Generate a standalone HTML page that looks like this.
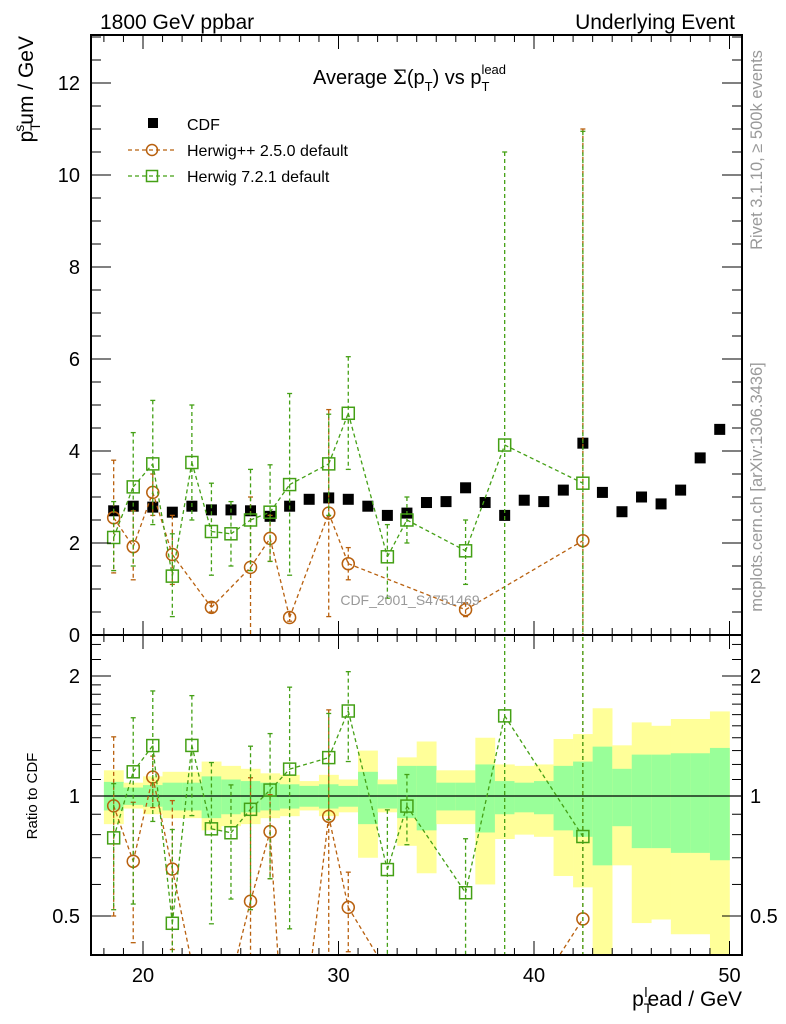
<!DOCTYPE html>
<html><head><meta charset="utf-8"><style>
html,body{margin:0;padding:0;background:#fff;width:786px;height:1024px;overflow:hidden}
svg{display:block;font-family:"Liberation Sans","DejaVu Sans",sans-serif}
</style></head><body>
<svg id="chart" width="786" height="1024" viewBox="0 0 786 1024" xmlns="http://www.w3.org/2000/svg">
<defs>
<clipPath id="clipMain"><rect x="91" y="35" width="651" height="600"/></clipPath>
<clipPath id="clipRatio"><rect x="91" y="635" width="651" height="320"/></clipPath>
</defs>
<g id="bands" clip-path="url(#clipRatio)"></g>
<g id="main" clip-path="url(#clipMain)"></g>
<g id="ratio" clip-path="url(#clipRatio)"></g>
<g id="axes"></g>
<text x="100" y="29" font-size="21">1800 GeV ppbar</text>
<text x="735" y="29" font-size="21" text-anchor="end">Underlying Event</text>
<text x="313" y="84" font-size="20">Average <tspan font-family="DejaVu Serif, serif">Σ</tspan>(p<tspan font-size="13" dy="7">T</tspan><tspan dy="-7">) vs p</tspan><tspan font-size="13" dy="7">T</tspan><tspan font-size="13" dx="-8" dy="-17">lead</tspan></text>
<g>
<rect x="148" y="118" width="10" height="10" fill="#000"/>
<text x="187" y="130" font-size="16">CDF</text>
<line x1="128" y1="150" x2="176" y2="150" stroke="#b8600e" stroke-width="1.2" stroke-dasharray="4,3"/>
<circle cx="152" cy="150" r="5.5" fill="none" stroke="#b8600e" stroke-width="1.5"/>
<text x="187" y="156" font-size="16">Herwig++ 2.5.0 default</text>
<line x1="128" y1="176" x2="176" y2="176" stroke="#44a015" stroke-width="1.2" stroke-dasharray="4,3"/>
<rect x="146.5" y="170.5" width="11" height="11" fill="none" stroke="#44a015" stroke-width="1.5"/>
<text x="187" y="182" font-size="16">Herwig 7.2.1 default</text>
</g>
<text x="410" y="605" font-size="14" fill="#999" text-anchor="middle">CDF_2001_S4751469</text>
<text transform="translate(762,150) rotate(-90)" font-size="16.5" fill="#999" text-anchor="middle">Rivet 3.1.10, ≥ 500k events</text>
<text transform="translate(762,487) rotate(-90)" font-size="16.5" fill="#999" text-anchor="middle">mcplots.cern.ch [arXiv:1306.3436]</text>
<text transform="translate(33,36) rotate(-90)" font-size="21" text-anchor="end">p<tspan font-size="14" dy="7">T</tspan><tspan font-size="14" dx="-8" dy="-16">s</tspan><tspan dy="9">um / GeV</tspan></text>
<text transform="translate(37,796) rotate(-90)" font-size="15" text-anchor="middle">Ratio to CDF</text>
<text x="742" y="1006" font-size="21" text-anchor="end">p<tspan font-size="14" dy="7">T</tspan><tspan font-size="14" dx="-8" dy="-16">l</tspan><tspan dy="9">ead / GeV</tspan></text>
</svg>
<script>
const binLo=[18,19,20,21,22,23,24,25,26,27,28,29,30,31,32,33,34,35,36,37,38,39,40,41,42,43,44,45,46,47,48,49];
const cdfVals=[2.7,2.8,2.78,2.67,2.8,2.72,2.72,2.7,2.58,2.8,2.95,2.98,2.95,2.8,2.6,2.65,2.88,2.9,3.2,2.88,2.6,2.93,2.9,3.15,4.17,3.1,2.68,3.0,2.85,3.15,3.85,4.47];
const yelHi=[1.16,1.08,1.12,1.15,1.15,1.22,1.19,1.17,1.14,1.13,1.09,1.13,1.10,1.30,1.10,1.25,1.37,1.16,1.16,1.40,1.20,1.19,1.20,1.39,1.43,1.66,1.34,1.53,1.50,1.56,1.56,1.63];
const yelLo=[0.85,0.93,0.90,0.88,0.88,0.82,0.84,0.85,0.88,0.89,0.92,0.89,0.91,0.70,0.91,0.75,0.64,0.85,0.85,0.60,0.78,0.80,0.79,0.63,0.59,0.35,0.67,0.48,0.49,0.45,0.45,0.35];
const grnHi=[1.085,1.05,1.065,1.08,1.08,1.12,1.10,1.09,1.08,1.07,1.06,1.07,1.06,1.15,1.07,1.19,1.19,1.08,1.08,1.20,1.09,1.08,1.09,1.19,1.22,1.33,1.17,1.27,1.27,1.28,1.28,1.32];
const grnLo=[0.92,0.95,0.94,0.92,0.92,0.88,0.90,0.91,0.92,0.93,0.94,0.93,0.94,0.85,0.93,0.88,0.82,0.92,0.92,0.81,0.90,0.91,0.90,0.82,0.79,0.67,0.84,0.74,0.74,0.72,0.72,0.69];
const hppX=[18.5,19.5,20.5,21.5,23.5,25.5,26.5,27.5,29.5,30.5,36.5,42.5];
const hppVals=[2.55,1.92,3.1,1.75,0.6,1.47,2.1,0.38,2.65,1.55,0.55,2.05];
const hppLo=[1.35,1.2,2.6,1.1,0.5,-0.5,1.6,0.3,0.4,1.2,0.4,-0.5];
const hppHi=[3.8,2.7,3.5,2.6,0.7,3.0,2.6,0.5,4.9,1.9,0.7,11.0];
const h7X=[18.5,19.5,20.5,21.5,22.5,23.5,24.5,25.5,26.5,27.5,29.5,30.5,32.5,33.5,36.5,38.5,42.5];
const h7Vals=[2.12,3.22,3.72,1.28,3.75,2.25,2.2,2.5,2.67,3.27,3.72,4.82,1.7,2.5,1.83,4.13,3.3];
const h7Lo=[1.4,1.5,2.4,0.4,2.5,1.3,1.5,1.4,1.6,1.3,2.6,3.6,0.8,2.0,1.1,-0.5,-0.5];
const h7Hi=[2.9,4.4,5.1,2.2,5.0,3.3,2.9,3.6,3.7,5.25,4.8,6.05,2.4,3.0,2.5,10.5,10.95];
const yTicksMain=[0,2,4,6,8,10,12];
const xTicks=[20,30,40,50];
const rTicks=[0.5,1,2];

const NS="http://www.w3.org/2000/svg";
const X=v=>143+(v-20)*19.55;
const Y=v=>635-46*v;
const R=r=>796-Math.log2(r)*120;
const clampY=(y,a,b)=>Math.min(Math.max(y,a),b);
function el(tag,attrs,parent){const e=document.createElementNS(NS,tag);for(const k in attrs)e.setAttribute(k,attrs[k]);parent.appendChild(e);return e;}
const gB=document.getElementById('bands'),gM=document.getElementById('main'),gR=document.getElementById('ratio'),gA=document.getElementById('axes');

binLo.forEach((b,i)=>{
  const yt=clampY(R(yelHi[i]),635,955),yb=clampY(R(yelLo[i]),635,955);
  const y=el('rect',{x:X(b),y:yt,width:X(b+1)-X(b)+0.3,height:yb-yt,fill:'#ffff99'},gB);
  
  
  const gt=clampY(R(grnHi[i]),635,955),gb=clampY(R(grnLo[i]),635,955);
  const g=el('rect',{x:X(b),y:gt,width:X(b+1)-X(b)+0.3,height:gb-gt,fill:'#99ff99'},gB);
  
  
});
const one=el('line',{x1:91,x2:742,y1:R(1),y2:R(1),stroke:'#000','stroke-width':1.2},gB);



binLo.forEach((b,i)=>{
  const m=el('rect',{x:X(b+0.5)-5.5,y:Y(cdfVals[i])-5.5,width:11,height:11,fill:'#000'},gM);
  
  
});

function clipSegs(pts,ymin,ymax){
  let d='';
  for(let i=0;i+1<pts.length;i++){
    const x1=pts[i][0],y1=pts[i][1],x2=pts[i+1][0],y2=pts[i+1][1];
    if((y1 < ymin && y2 < ymin)||(y1 > ymax && y2 > ymax))continue;
    const at=y=>x1+(x2-x1)*(y-y1)/(y2-y1);
    let ax=x1,ay=y1,bx=x2,by=y2;
    if(ay > ymax){ax=at(ymax);ay=ymax;} if(ay < ymin){ax=at(ymin);ay=ymin;}
    if(by > ymax){bx=at(ymax);by=ymax;} if(by < ymin){bx=at(ymin);by=ymin;}
    d+='M'+ax.toFixed(2)+','+ay.toFixed(2)+'L'+bx.toFixed(2)+','+by.toFixed(2);
  }
  return d;
}
function cdfAt(x){return cdfVals[binLo.indexOf(Math.floor(x))];}
function series(xs,vals,lo,hi,color,shape,name){
  [gM,gR].forEach((g,pi)=>{
    const raw=(x,v)=>pi===0?Y(v):R(Math.max(v/cdfAt(x),0.01));
    const lim=pi===0?[30,640]:[630,960];
    const tv=(x,v)=>clampY(raw(x,v),lim[0],lim[1]);
    const pts=xs.map((x,i)=>[X(x),raw(x,vals[i])]);
    const pl=el('path',{d:clipSegs(pts,lim[0],lim[1]),fill:'none',stroke:color,'stroke-width':1.3,'stroke-dasharray':'4,3'},g);
    
    
    xs.forEach((x,i)=>{
      const cx=X(x),cyRaw=raw(x,vals[i]),y1=tv(x,hi[i]),y2=tv(x,lo[i]);
      const eb=el('line',{x1:cx,x2:cx,y1:y1,y2:y2,stroke:color,'stroke-width':1.3,'stroke-dasharray':'4,3'},g);
      
      
      el('line',{x1:cx-2.5,x2:cx+2.5,y1:y1,y2:y1,stroke:color,'stroke-width':1.3},g);
      el('line',{x1:cx-2.5,x2:cx+2.5,y1:y2,y2:y2,stroke:color,'stroke-width':1.3},g);
      if(cyRaw < lim[0] || cyRaw > lim[1])return;
      let mk;
      if(shape==='c')mk=el('circle',{cx:cx,cy:cyRaw,r:6,fill:'none',stroke:color,'stroke-width':1.5},g);
      else mk=el('rect',{x:cx-6,y:cyRaw-6,width:12,height:12,fill:'none',stroke:color,'stroke-width':1.5},g);
      
      
    });
  });
}
series(hppX,hppVals,hppLo,hppHi,'#b8600e','c','herwigpp');
series(h7X,h7Vals,h7Lo,h7Hi,'#44a015','s','herwig7');

[[35,600],[635,320]].forEach(([y,h])=>{
  const f=el('rect',{x:91,y:y,width:651,height:h,fill:'none',stroke:'#000','stroke-width':2},gA);
  
  
});
for(let v=18;v<=50;v++){
  const big=v%10===0, L=big?14:7;
  [[35,1],[635,-1],[635,1],[955,-1]].forEach(([y,d])=>{el('line',{x1:X(v),x2:X(v),y1:y,y2:y+d*L,stroke:'#000','stroke-width':1},gA);});
}
xTicks.forEach(v=>{
  const t=el('text',{x:X(v),y:982,'font-size':20,'text-anchor':'middle'},gA);t.textContent=v;
  
  
});
for(let k=0;k<=26;k++){
  const v=k*0.5,big=k%4===0,L=big?20:10;
  if(Y(v) < 35)continue;
  el('line',{x1:91,x2:91+L,y1:Y(v),y2:Y(v),stroke:'#000'},gA);
  el('line',{x1:742,x2:742-L,y1:Y(v),y2:Y(v),stroke:'#000'},gA);
}
yTicksMain.forEach(v=>{
  const t=el('text',{x:80,y:Y(v)+7,'font-size':20,'text-anchor':'end'},gA);t.textContent=v;
  
  
});
const minor=[0.4,0.5,0.6,0.7,0.8,0.9,1,1.1,1.2,1.3,1.4,1.5,1.6,1.7,1.8,1.9,2,2.2,2.4];
minor.forEach(v=>{
  const big=rTicks.includes(v),L=big?20:10;
  el('line',{x1:91,x2:91+L,y1:R(v),y2:R(v),stroke:'#000'},gA);
  el('line',{x1:742,x2:742-L,y1:R(v),y2:R(v),stroke:'#000'},gA);
});
rTicks.forEach(v=>{
  const t=el('text',{x:80,y:R(v)+7,'font-size':20,'text-anchor':'end'},gA);t.textContent=v;
  
  
  const t2=el('text',{x:750,y:R(v)+7,'font-size':20},gA);t2.textContent=v;
  
  
});
</script>
</body></html>
